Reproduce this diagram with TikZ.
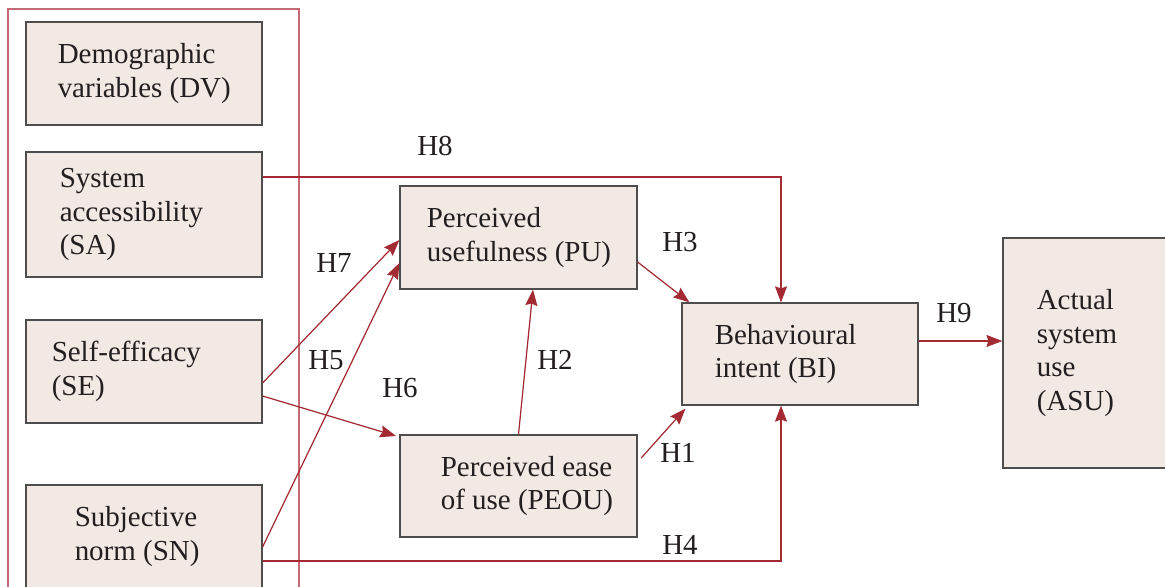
\documentclass[tikz,border=0pt]{standalone}
\usepackage{fontspec}
\setmainfont{Liberation Serif}
\usetikzlibrary{arrows.meta}
\definecolor{boxfill}{HTML}{F2E8E4}
\definecolor{boxline}{HTML}{4D4D4D}
\definecolor{linkred}{HTML}{A32A33}
\definecolor{framered}{HTML}{C46A74}
\definecolor{textcol}{HTML}{231F20}
\begin{document}
\begin{tikzpicture}[x=0.02cm,y=-0.02cm,
    box/.style={draw=boxline, fill=boxfill, line width=0.7pt, minimum width=4.72cm, minimum height=2.06cm, inner sep=0pt},
    txt/.style={anchor=west, align=left, inner sep=0pt, text=textcol, font=\fontsize{16.5}{19.3}\selectfont},
    hyp/.style={inner sep=0pt, text=textcol, font=\fontsize{16.5}{19.3}\selectfont},
    link/.style={draw=linkred, line width=0.7pt, -{Stealth[length=0.32cm,width=0.24cm,inset=0.04cm]}}]
    \useasboundingbox (0,0) rectangle (1165,587);
    \clip (0,0) rectangle (1165,587);

    % outer frame round the external variables
    \draw[framered, line width=0.8pt] (8,9) rectangle (299,640);

    \node[box, label={[txt, xshift=0.64cm]west:{Demographic\\variables (DV)}}] (dv) at (144,73.5) {};
    \node[box, minimum height=2.5cm, label={[txt, xshift=0.68cm]west:{System\\accessibility\\(SA)}}] (sa) at (144,214.5) {};
    \node[box, label={[txt, xshift=0.52cm]west:{Self-efficacy\\(SE)}}] (se) at (144,371.5) {};
    \node[box, label={[txt, xshift=0.98cm]west:{Subjective\\norm (SN)}}] (sn) at (144,536.5) {};

    \node[box, minimum width=4.74cm, label={[txt, xshift=0.54cm]west:{Perceived\\usefulness (PU)}}] (pu) at (518.5,237.5) {};
    \node[box, minimum width=4.74cm, minimum height=2.04cm, label={[txt, xshift=0.82cm]west:{Perceived ease\\of use (PEOU)}}] (peou) at (518.5,486) {};
    \node[box, minimum height=2.04cm, label={[txt, xshift=0.66cm]west:{Behavioural\\intent (BI)}}] (bi) at (800,354) {};
    \node[box, minimum width=3.4cm, minimum height=4.6cm, label={[txt, xshift=0.68cm]west:{Actual\\system\\use\\(ASU)}}] (asu) at (1088,353) {};

    % hypotheses
    \draw[link] (sa.east |- 0,177) -| ([xshift=-0.38cm]bi.north);
    \draw[link] (sn.east |- 0,561) -| ([xshift=-0.38cm]bi.south);
    \draw[link] (se.east |- 0,383) -- (pu.west |- 0,240);
    \draw[link] (sn.east |- 0,547) -- (pu.west |- 0,263);
    \draw[link, shorten >=2pt] (se.east |- 0,396) -- (peou.west |- 0,437);
    \draw[link] (peou.north) -- ([xshift=0.29cm]pu.south);
    \draw[link] (pu.east |- 0,262) -- ([xshift=0.16cm]bi.north west);
    \draw[link, shorten <=3pt] (peou.east |- 0,462) -- ([xshift=0.08cm,yshift=-0.06cm]bi.south west);
    \draw[link] (bi.east |- 0,341) -- (asu.west |- 0,341);

    \node[hyp] (h1) at (678,453) {H1};
    \node[hyp] (h2) at (555,360) {H2};
    \node[hyp] (h3) at (680,242) {H3};
    \node[hyp] (h4) at (680,545) {H4};
    \node[hyp] (h5) at (326,360) {H5};
    \node[hyp] (h6) at (400,388) {H6};
    \node[hyp] (h7) at (334,263) {H7};
    \node[hyp] (h8) at (435,146) {H8};
    \node[hyp] (h9) at (954,313) {H9};
\end{tikzpicture}
\end{document}
